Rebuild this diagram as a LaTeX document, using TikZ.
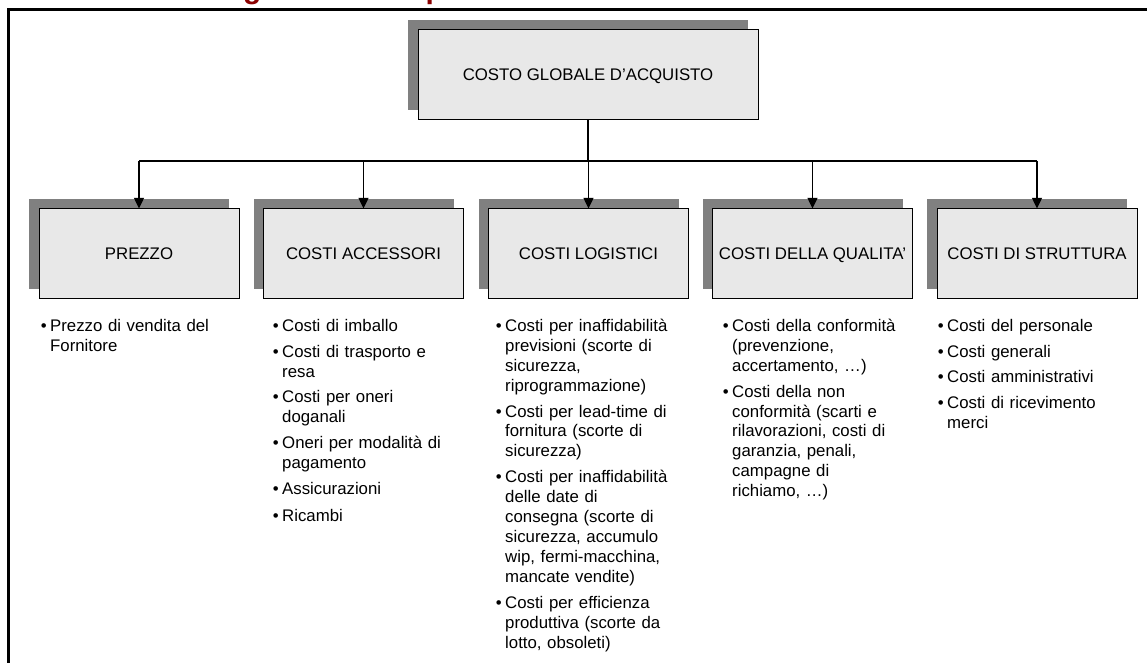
\documentclass[tikz,border=0pt]{standalone}
\usepackage{fontspec}
\setmainfont{Liberation Sans}
\usetikzlibrary{arrows.meta,shadows}
\definecolor{boxfill}{HTML}{E8E8E8}
\definecolor{shadowgray}{HTML}{808080}
\definecolor{titlered}{HTML}{8B0000}
\newcommand{\bul}[1]{\hangindent=7pt\hangafter=1\noindent\makebox[7pt][l]{\textbullet}#1\par}
\begin{document}
\begin{tikzpicture}[x=0.75pt,y=-0.75pt,
  catbox/.style={draw=black, line width=0.75pt, fill=boxfill,
    minimum width=150pt, minimum height=67.5pt, inner sep=0pt,
    text height=9pt, text depth=0pt,
    font=\fontsize{12.6}{15}\selectfont,
    general shadow={fill=shadowgray, draw=none, shadow xshift=-7.5pt, shadow yshift=7.5pt}},
  conn/.style={draw=black, line width=1pt},
  arr/.style={conn, -{Triangle[width=7.5pt,length=8pt]}},
  list/.style={anchor=base west, inner sep=0pt, text width=150pt, align=left,
    font=\fontsize{12.6}{15}\selectfont,
    execute at begin node={\setlength{\parskip}{4.5pt}}},
  frame/.style={draw=black, line width=1.9pt}]
\useasboundingbox (0,0) rectangle (1147,663);
\fill[white] (0,0) rectangle (1147,663);
% title (mostly above the page)
\node[anchor=base west, inner sep=0pt, text=titlered, font=\fontsize{22.4}{24}\selectfont\bfseries] (title) at (130,-1.5) {Il costo globale d’acquisto};
% frame
\draw[frame] (1147,9.5) -- (8.5,9.5) -- (8.5,663);
% boxes
\node[catbox, minimum width=255pt] (top) at (588,75) {COSTO GLOBALE D’ACQUISTO};
\node[catbox] (c1) at (139,254) {PREZZO};
\node[catbox] (c2) at (363.5,254) {COSTI ACCESSORI};
\node[catbox] (c3) at (588.5,254) {COSTI LOGISTICI};
\node[catbox] (c4) at (812.5,254) {COSTI DELLA QUALITA’};
\node[catbox] (c5) at (1037,254) {COSTI DI STRUTTURA};
% connectors
\coordinate (bar) at (588,161);
\draw[conn] (top.south) -- (bar);
\draw[conn] (c1.north |- bar) -- (c5.north |- bar);
\foreach \i in {1,...,5}{\draw[arr] (c\i.north |- bar) -- (c\i.north);}
% lists
\node[list] (l1) at (40.6,331) {\bul{Prezzo di vendita del\newline Fornitore}};
\node[list] (l2) at (272.6,331) {\bul{Costi di imballo}\bul{Costi di trasporto e\newline resa}\bul{Costi per oneri\newline doganali}\bul{Oneri per modalità di\newline pagamento}\bul{Assicurazioni}\bul{Ricambi}};
\node[list] (l3) at (495.6,331) {\bul{Costi per inaffidabilità\newline previsioni (scorte di\newline sicurezza,\newline riprogrammazione)}\bul{Costi per lead-time di\newline fornitura (scorte di\newline sicurezza)}\bul{Costi per inaffidabilità\newline delle date di\newline consegna (scorte di\newline sicurezza, accumulo\newline wip, fermi-macchina,\newline mancate vendite)}\bul{Costi per efficienza\newline produttiva (scorte da\newline lotto, obsoleti)}};
\node[list] (l4) at (722.6,331) {\bul{Costi della conformità\newline (prevenzione,\newline accertamento, …)}\bul{Costi della non\newline conformità (scarti e\newline rilavorazioni, costi di\newline garanzia, penali,\newline campagne di\newline richiamo, …)}};
\node[list] (l5) at (937.6,331) {\bul{Costi del personale}\bul{Costi generali}\bul{Costi amministrativi}\bul{Costi di ricevimento\newline merci}};
\end{tikzpicture}
\end{document}
